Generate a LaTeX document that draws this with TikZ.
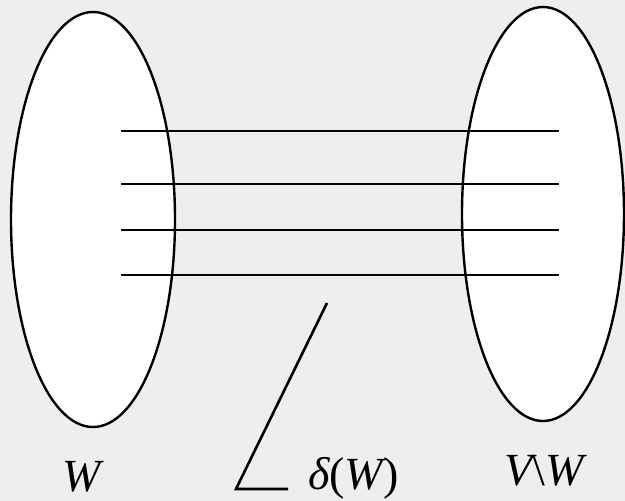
\documentclass[tikz,border=0pt]{standalone}
\usepackage{fontspec}
\setmainfont{Liberation Serif}
\usetikzlibrary{shapes.geometric}
\definecolor{bgc}{RGB}{238,238,238}
\begin{document}
\begin{tikzpicture}[x=1pt,y=-1pt,
  setnode/.style={ellipse, draw=black, fill=white, line width=2.4pt, inner sep=0pt},
  edgeline/.style={draw=black, line width=2.6pt},
  lbl/.style={font=\fontsize{46}{50}\selectfont\itshape, inner sep=0pt}]
\fill[bgc] (0,0) rectangle (625,501);
\useasboundingbox (0,0) rectangle (625,501);
\node[setnode, minimum width=164pt, minimum height=415pt] (Wset) at (93,219.5) {};
\node[setnode, minimum width=162pt, minimum height=414pt] (VWset) at (543,214) {};
\foreach \i/\yy in {1/131,2/184,3/230,4/275}{
  \coordinate (l\i) at (121,\yy);
  \coordinate (r\i) at (558.7,\yy);
  \draw[edgeline] (l\i) -- (r\i);
}
\coordinate (ptop) at (327,303);
\coordinate (pcorner) at (236,489);
\coordinate (pend) at (288,489);
\draw[edgeline] (ptop) -- (pcorner) -- (pend);
\node[lbl, anchor=base] (Wlbl) at (82,491) {W};
\node[lbl, anchor=base] (VWlbl) at (544,485) {V{\upshape\textbackslash}W};
\node[lbl, anchor=base west] (dlbl) at (308,489) {δ{\upshape(}W{\upshape)}};
\end{tikzpicture}
\end{document}
